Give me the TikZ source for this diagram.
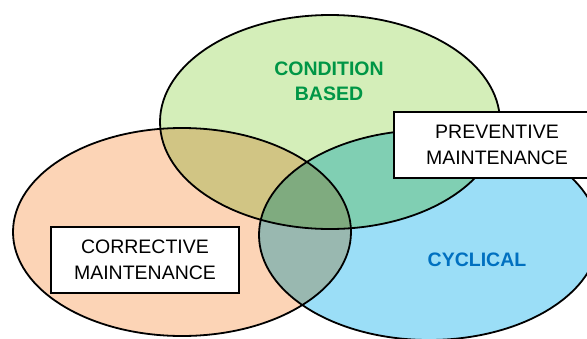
\documentclass[tikz,border=0pt]{standalone}
\usepackage{fontspec}
\setmainfont{Liberation Sans}
\usetikzlibrary{shapes.geometric}
\definecolor{cgreen}{RGB}{212,238,185}
\definecolor{corange}{RGB}{252,212,182}
\definecolor{cblue}{RGB}{155,222,247}
\definecolor{tgreen}{RGB}{0,150,70}
\definecolor{tblue}{RGB}{0,112,192}
\tikzset{
  venn/.style={ellipse, draw=black, line width=1.8pt, inner sep=0pt},
  labelbox/.style={draw=black, fill=white, line width=1.1pt, inner sep=0pt, align=center,
    font=\fontsize{19.5}{25.5}\selectfont},
  setlabel/.style={align=center, font=\fontsize{19.5}{25}\selectfont\bfseries}
}
\begin{document}
\begin{tikzpicture}[x=1pt,y=-1pt]
\useasboundingbox (0,0) rectangle (587,338);
\clip (0,0) rectangle (587,338);
\begin{scope}[blend mode=multiply]
\node[venn, fill=cgreen, minimum width=340pt, minimum height=214pt] (green) at (330,122) {};
\node[venn, fill=corange, minimum width=338pt, minimum height=208pt] (orange) at (182,232) {};
\node[venn, fill=cblue, minimum width=340pt, minimum height=210pt] (blue) at (429,235) {};
\end{scope}
\node[setlabel, text=tgreen] (cond) at (329,81.5) {CONDITION\\BASED};
\node[setlabel, text=tblue] (cyc) at (477,259.5) {CYCLICAL};
\node[labelbox, minimum width=206pt, minimum height=66pt] (prev) at (497,145) {PREVENTIVE\\MAINTENANCE};
\node[labelbox, minimum width=188pt, minimum height=66pt] (corr) at (145,260) {CORRECTIVE\\MAINTENANCE};
\end{tikzpicture}
\end{document}
